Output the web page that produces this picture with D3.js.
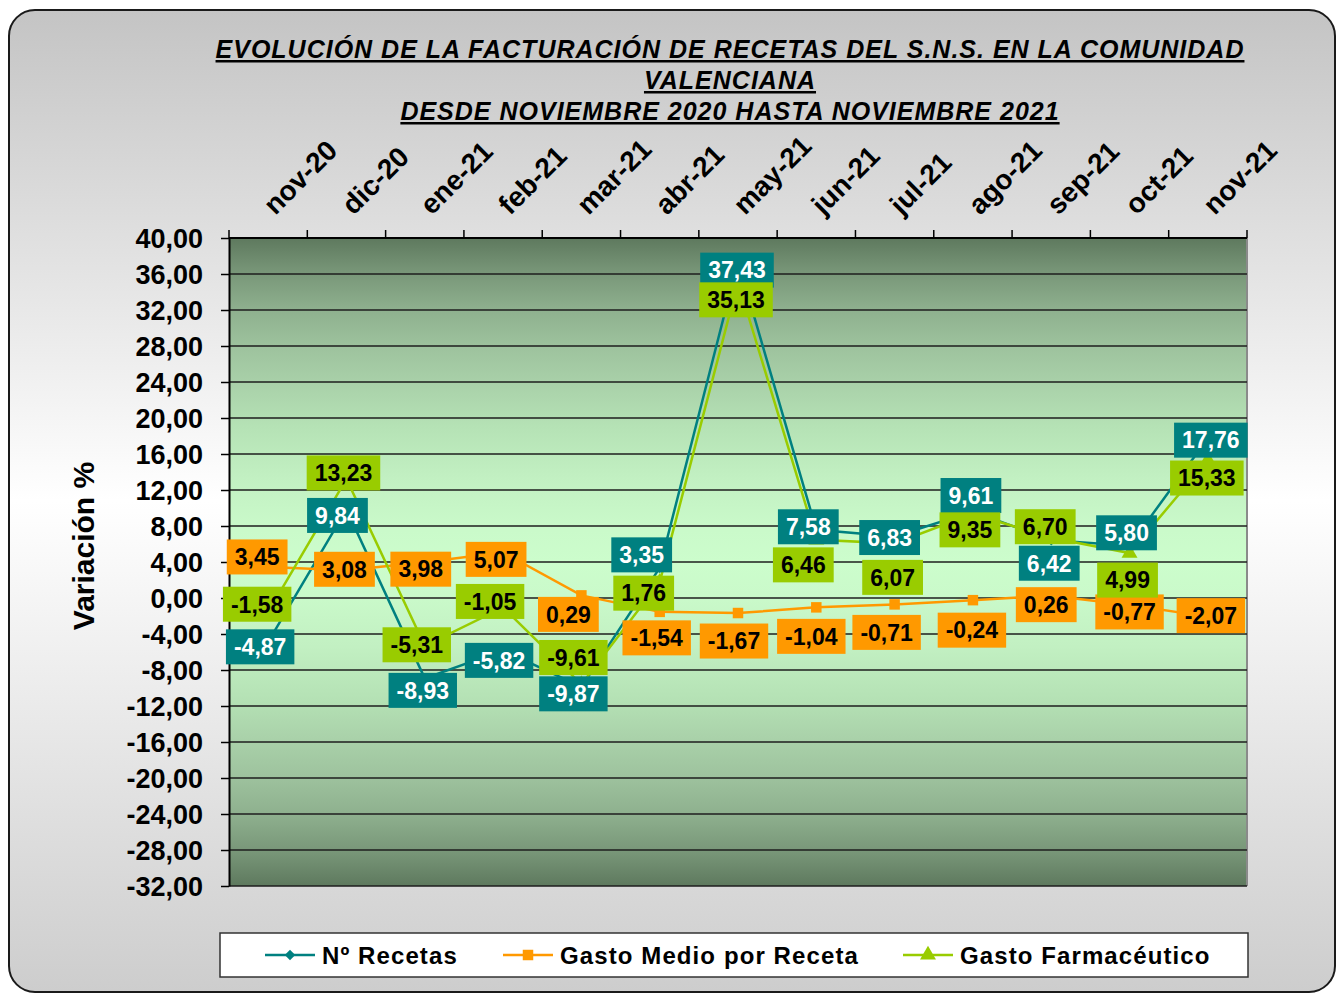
<!DOCTYPE html>
<html><head><meta charset="utf-8">
<script src="https://cdn.jsdelivr.net/npm/d3@7"></script>
<style>html,body{margin:0;padding:0;background:#fff;}svg{display:block;font-family:"Liberation Sans",Arial,sans-serif;}</style>
</head><body>
<svg id="c" width="1342" height="995"></svg>
<script>
const categories = ["nov-20","dic-20","ene-21","feb-21","mar-21","abr-21","may-21","jun-21","jul-21","ago-21","sep-21","oct-21","nov-21"];
const recetas = [-4.87, 9.84, -8.93, -5.82, -9.87, 3.35, 37.43, 7.58, 6.83, 9.61, 6.42, 5.80, 17.76];
const gastoMedio = [3.45, 3.08, 3.98, 5.07, 0.29, -1.54, -1.67, -1.04, -0.71, -0.24, 0.26, -0.77, -2.07];
const gastoFarm = [-1.58, 13.23, -5.31, -1.05, -9.61, 1.76, 35.13, 6.46, 6.07, 9.35, 6.70, 4.99, 15.33];
const yTicks = [-32,-28,-24,-20,-16,-12,-8,-4,0,4,8,12,16,20,24,28,32,36,40];
const seriesNames = ["Nº Recetas","Gasto Medio por Receta","Gasto Farmacéutico"];
const titleLines = ["EVOLUCIÓN DE LA FACTURACIÓN DE RECETAS DEL S.N.S. EN LA COMUNIDAD","VALENCIANA","DESDE NOVIEMBRE 2020 HASTA NOVIEMBRE 2021"];
const yTitle = "Variación %";

// label nudges (pixels) for data labels, per series
const nudgeRecetas = [[-8,5],[-9,6],[-2,12],[-4,10],[-8,7],[-18,-13],[-1,9],[-8,-3],[-5,1],[-2,-16],[-2,23],[-3,-13],[3,2]];
const nudgeMedio = [[-11,-10],[-2,-1],[-4,7],[-7,7],[-13,19],[-3,26],[-4,28],[-5,29],[-8,28],[-1,30],[-5,9],[0,7],[3,-1]];
const nudgeFarm = [[-11,-8],[-3,-6],[-8,-1],[-13,-6],[-8,-27],[-16,11],[-2,18],[-13,25],[-2,34],[-3,16],[-6,-11],[-2,27],[-1,18]];

const colors = ["#008080","#FF9900","#99CC00"];
const labelText = ["#ffffff","#000000","#000000"];

const svg = d3.select("#c");
const defs = svg.append("defs");
const bg = defs.append("linearGradient").attr("id","bg").attr("x1",0).attr("y1",0).attr("x2",0).attr("y2",1);
[[0,"#c4c4c4"],[0.5,"#ffffff"],[1,"#cdcdcd"]].forEach(s=>bg.append("stop").attr("offset",s[0]).attr("stop-color",s[1]));
const pg = defs.append("linearGradient").attr("id","pg").attr("x1",0).attr("y1",0).attr("x2",0).attr("y2",1);
const half = [[0,"#5e795e"],[0.05,"#779577"],[0.11,"#8eb08e"],[0.17,"#9ec39e"],[0.23,"#aad2aa"],[0.29,"#b5e2b5"],[0.37,"#c2f0c2"],[0.45,"#cafaca"],[0.5,"#ccfdcc"]];
half.forEach(s=>pg.append("stop").attr("offset",s[0]).attr("stop-color",s[1]));
half.slice(0,-1).reverse().forEach(s=>pg.append("stop").attr("offset",1-s[0]).attr("stop-color",s[1]));

// outer frame
svg.append("rect").attr("x",9).attr("y",10).attr("width",1326).attr("height",982).attr("rx",26).attr("ry",26)
  .attr("fill","url(#bg)").attr("stroke","#1a1a1a").attr("stroke-width",2);

const L=229,R=1247,T=238,B=886;
const x = d3.scaleBand().domain(categories).range([L,R]);
const cx = c => x(c)+x.bandwidth()/2;
const y = d3.scaleLinear().domain([-32,40]).range([B,T]);

// plot area
svg.append("rect").attr("x",L).attr("y",T).attr("width",R-L).attr("height",B-T).attr("fill","url(#pg)");
svg.append("line").attr("x1",R).attr("x2",R).attr("y1",T).attr("y2",B).attr("stroke","#8a8a8a").attr("stroke-width",2);

// gridlines
svg.append("g").selectAll("line").data(yTicks).join("line")
  .attr("x1",L).attr("x2",R).attr("y1",d=>y(d)).attr("y2",d=>y(d))
  .attr("stroke","#1e1e1e").attr("stroke-width",1.6);

// y axis
const yAxis = svg.append("g").attr("transform",`translate(${L},0)`)
  .call(d3.axisLeft(y).tickValues(yTicks).tickSize(8).tickSizeOuter(0).tickFormat(d=>d3.format(".2f")(d).replace(".",",").replace("−","-")));
yAxis.select(".domain").attr("stroke","#000").attr("stroke-width",2);
yAxis.selectAll(".tick line").attr("stroke","#000").attr("stroke-width",1.5);
yAxis.selectAll(".tick text").attr("font-size",27).attr("font-weight","bold").attr("fill","#000").attr("x",-26).attr("dy","0.36em");

// top axis (ticks at category boundaries)
svg.append("line").attr("x1",L).attr("x2",R).attr("y1",T).attr("y2",T).attr("stroke","#000").attr("stroke-width",2);
svg.append("g").selectAll("line").data(categories.concat(["__end"])).join("line")
  .attr("x1",d=>d==="__end"?R:x(d)).attr("x2",d=>d==="__end"?R:x(d))
  .attr("y1",T-8).attr("y2",T).attr("stroke","#000").attr("stroke-width",1.5);
svg.append("g").selectAll("text").data(categories).join("text")
  .attr("transform",d=>`translate(${cx(d)+7},216) rotate(-45)`)
  .attr("font-size",28).attr("font-weight","bold").attr("fill","#000").text(d=>d);

// title
svg.append("g").selectAll("text").data(titleLines).join("text")
  .attr("x",730).attr("y",(d,i)=>58+i*31).attr("text-anchor","middle")
  .attr("font-size",25).attr("letter-spacing",1).attr("font-weight","bold").attr("font-style","italic")
  .attr("text-decoration","underline").attr("fill","#000").text(d=>d);

// y title
svg.append("text").attr("transform","translate(94,546) rotate(-90)").attr("text-anchor","middle")
  .attr("font-size",30).attr("font-weight","bold").attr("fill","#000").text(yTitle);

// series
const seriesData = [recetas,gastoMedio,gastoFarm];
const nudges = [nudgeRecetas,nudgeMedio,nudgeFarm];
const line = d3.line().x((d,i)=>cx(categories[i])).y(d=>y(d));
const symbols = [d3.symbolDiamond2, d3.symbolSquare, d3.symbolTriangle];
const symSizes = [70,110,110];

seriesData.forEach((vals,s)=>{
  svg.append("path").datum(vals).attr("d",line).attr("fill","none").attr("stroke",colors[s]).attr("stroke-width",2.5);
});
seriesData.forEach((vals,s)=>{
  svg.append("g").selectAll("path").data(vals).join("path")
    .attr("transform",(d,i)=>`translate(${cx(categories[i])},${y(d)})`)
    .attr("d",d3.symbol(symbols[s],symSizes[s])).attr("fill",colors[s]);
});
seriesData.forEach((vals,s)=>{
  const g = svg.append("g");
  vals.forEach((v,i)=>{
    const px = cx(categories[i])+nudges[s][i][0], py = y(v)+nudges[s][i][1];
    const lg = g.append("g").attr("transform",`translate(${px},${py})`);
    const r = lg.append("rect").attr("fill",colors[s]);
    const t = lg.append("text").attr("text-anchor","middle").attr("dy","0.36em")
      .attr("font-size",23).attr("font-weight","bold").attr("fill",labelText[s])
      .text(d3.format(".2f")(v).replace(".",",").replace("−","-"));
    const w = t.node().getComputedTextLength()+16, h=35;
    r.attr("x",-w/2).attr("y",-h/2).attr("width",w).attr("height",h);
  });
});

// legend
svg.append("rect").attr("x",220).attr("y",933).attr("width",1028).attr("height",44).attr("fill","#fff").attr("stroke","#333").attr("stroke-width",1.5);
const legX = [265,503,903];
seriesNames.forEach((n,s)=>{
  const g = svg.append("g").attr("transform",`translate(${legX[s]},955)`);
  g.append("line").attr("x1",0).attr("x2",50).attr("stroke",colors[s]).attr("stroke-width",2.5);
  g.append("path").attr("transform","translate(25,0)").attr("d",d3.symbol(symbols[s],symSizes[s])).attr("fill",colors[s]);
  g.append("text").attr("x",57).attr("y",9).attr("font-size",24).attr("letter-spacing",1.1).attr("font-weight","bold").attr("fill","#000").text(n);
});
</script>
</body></html>
